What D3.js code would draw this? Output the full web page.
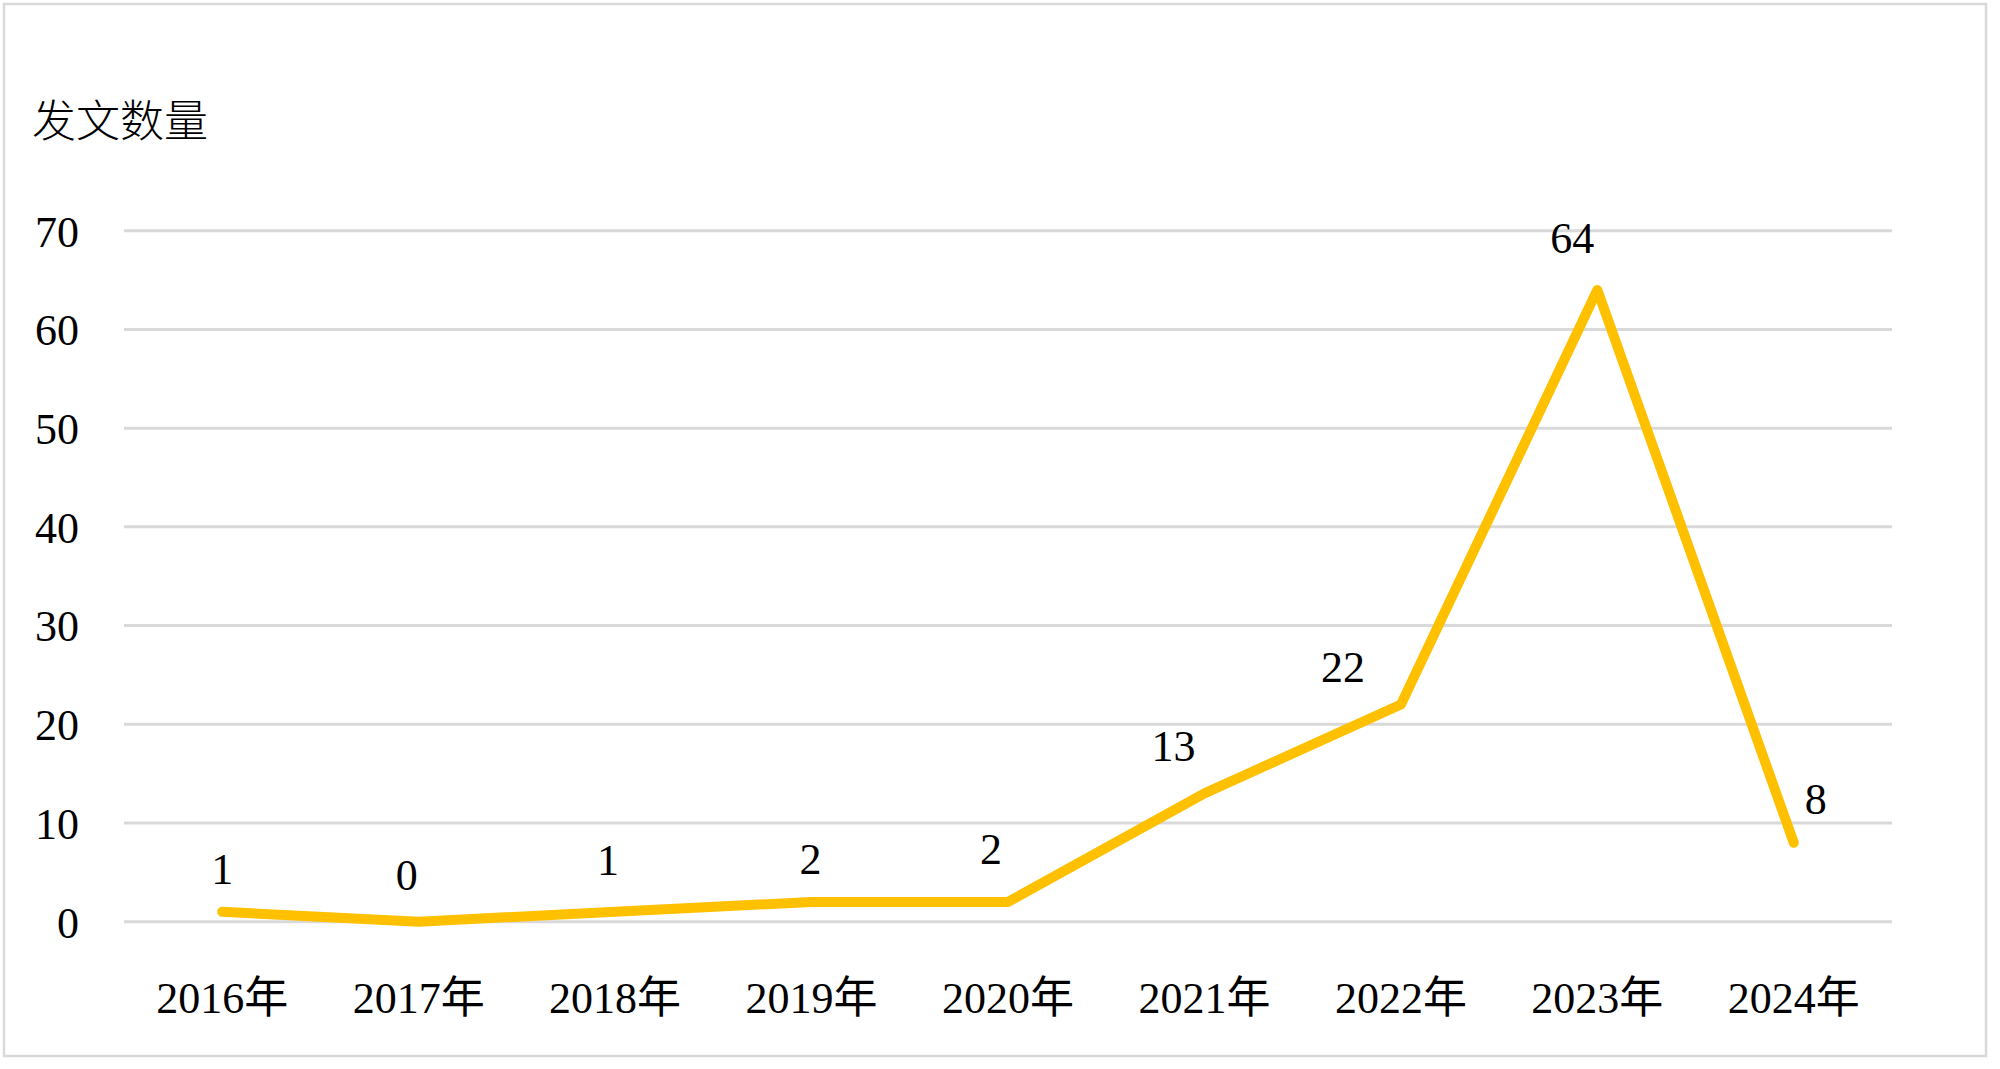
<!DOCTYPE html>
<html>
<head>
<meta charset="utf-8">
<script src="https://cdn.jsdelivr.net/npm/d3@7"></script>
<style>
  html, body { margin: 0; padding: 0; background: #fff; }
  svg { display: block; }
</style>
</head>
<body>
<svg id="chart" width="2000" height="1069"></svg>
<script>
// ---- data ----
const categories = ["2016年", "2017年", "2018年", "2019年", "2020年", "2021年", "2022年", "2023年", "2024年"];
const counts = [1, 0, 1, 2, 2, 13, 22, 64, 8];
const yTicks = [0, 10, 20, 30, 40, 50, 60, 70];
const yTitle = "发文数量";

// ---- layout (label nudges relative to each point, px) ----
const labelNudge = [[0, -28], [-12, -32], [-7, -37], [-1, -28], [-17, -38], [-31, -32], [-58, -23], [-25, -37], [22, -29]];

const plot = { left: 124, right: 1892, top: 230.7, bottom: 921.7 };
const fontSize = 44;
const serif = '"Liberation Serif", "Times New Roman", "Noto Sans CJK SC", serif';

const svg = d3.select("#chart");

// outer border
svg.append("rect")
  .attr("x", 4).attr("y", 4).attr("width", 1982).attr("height", 1052)
  .attr("fill", "#fff").attr("stroke", "#d9d9d9").attr("stroke-width", 2.5);

const x = d3.scaleBand().domain(categories).range([plot.left, plot.right]).padding(0);
const y = d3.scaleLinear().domain([0, 70]).range([plot.bottom, plot.top]);
const cx = c => x(c) + x.bandwidth() / 2;

// gridlines
svg.append("g").selectAll("line").data(yTicks).join("line")
  .attr("x1", plot.left).attr("x2", plot.right)
  .attr("y1", d => y(d)).attr("y2", d => y(d))
  .attr("stroke", "#d9d9d9").attr("stroke-width", 3);

// y axis labels
const yAxis = d3.axisLeft(y).tickValues(yTicks).tickSize(0).tickPadding(0).tickFormat(d3.format("d"));
const gy = svg.append("g").attr("transform", `translate(79,0)`).call(yAxis);
gy.select(".domain").remove();
gy.attr("font-family", null).attr("font-size", null);
gy.selectAll("text")
  .style("font-family", serif)
  .style("font-size", fontSize + "px")
  .style("fill", "#000")
  .attr("dy", "0.35em");

// x axis labels
const xAxis = d3.axisBottom(x).tickSize(0).tickPadding(0);
const gx = svg.append("g").attr("transform", `translate(0,1013)`).call(xAxis);
gx.select(".domain").remove();
gx.attr("font-family", null).attr("font-size", null);
gx.selectAll("text")
  .style("font-family", serif)
  .style("font-size", fontSize + "px")
  .style("fill", "#000")
  .attr("dy", 0)
  .attr("y", 0);

// y title
svg.append("text")
  .attr("x", 32).attr("y", 137)
  .style("font-family", '"Noto Sans CJK SC", sans-serif')
  .style("font-size", fontSize + "px")
  .style("font-weight", 300)
  .style("fill", "#000")
  .text(yTitle);

// line
const data = categories.map((c, i) => ({ c, v: counts[i], n: labelNudge[i] }));
const line = d3.line().x(d => cx(d.c)).y(d => y(d.v));
svg.append("path")
  .datum(data)
  .attr("d", line)
  .attr("fill", "none")
  .attr("stroke", "#FFC000")
  .attr("stroke-width", 10)
  .attr("stroke-linejoin", "round")
  .attr("stroke-linecap", "round");

// data labels
svg.append("g").selectAll("text").data(data).join("text")
  .attr("x", d => cx(d.c) + d.n[0])
  .attr("y", d => y(d.v) + d.n[1])
  .attr("text-anchor", "middle")
  .style("font-family", serif)
  .style("font-size", fontSize + "px")
  .style("fill", "#000")
  .text(d => d.v);
</script>
</body>
</html>
